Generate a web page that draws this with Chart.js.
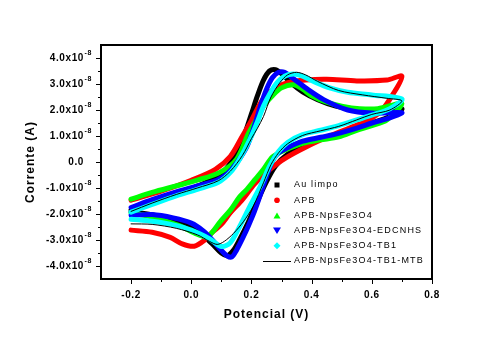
<!DOCTYPE html>
<html>
<head>
<meta charset="utf-8">
<title>Voltametria ciclica</title>
<script src="https://cdn.jsdelivr.net/npm/chart.js"></script>
<style>
  body { margin: 0; background: #fff; }
</style>
</head>
<body>
<canvas id="cv" width="480" height="350"></canvas>
<script>
// potencial (V) e corrente (x10^-8 A): varredura direta seguida da reversa
const auV  = [-0.20,-0.15,-0.10,-0.05,0.00,0.05,0.10,0.13,0.16,0.18,0.20,0.22,0.24,0.26,0.28,0.30,0.33,0.37,0.42,0.48,0.55,0.62,0.70,
              0.66,0.60,0.52,0.45,0.38,0.32,0.28,0.25,0.22,0.19,0.16,0.14,0.12,0.10,0.07,0.03,-0.03,-0.10,-0.20];
const auI  = [-1.85,-1.62,-1.42,-1.22,-1.02,-0.78,-0.45,-0.05,0.50,1.15,1.85,2.55,3.15,3.50,3.55,3.40,3.05,2.70,2.40,2.15,2.00,1.95,2.05,
              1.75,1.50,1.20,0.95,0.65,0.30,-0.15,-0.75,-1.50,-2.30,-3.00,-3.40,-3.60,-3.50,-3.15,-2.75,-2.35,-2.10,-1.90];

const apbV = [-0.20,-0.10,0.00,0.08,0.13,0.17,0.20,0.24,0.28,0.32,0.38,0.45,0.55,0.65,0.70,
              0.67,0.63,0.59,0.54,0.45,0.36,0.30,0.25,0.21,0.17,0.13,0.10,0.07,0.045,0.01,-0.03,-0.07,-0.13,-0.20];
const apbI = [-1.47,-1.12,-0.70,-0.28,0.22,1.00,1.60,2.45,2.85,3.05,3.15,3.18,3.12,3.15,3.30,
              2.60,1.95,1.62,1.37,0.95,0.45,0.05,-0.40,-0.85,-1.45,-1.95,-2.40,-2.70,-3.00,-3.24,-3.15,-2.90,-2.70,-2.62];

const npsV = [-0.20,-0.13,-0.05,0.02,0.095,0.15,0.19,0.22,0.24,0.27,0.30,0.34,0.37,0.40,0.45,0.50,0.56,0.62,0.70,
              0.65,0.60,0.55,0.49,0.43,0.37,0.31,0.27,0.24,0.21,0.185,0.16,0.13,0.096,0.07,0.05,0.02,-0.04,-0.12,-0.20];
const npsI = [-1.43,-1.17,-0.92,-0.70,-0.40,0.10,1.10,1.70,2.15,2.55,2.85,2.97,2.80,2.55,2.30,2.15,2.05,2.05,2.25,
              1.62,1.40,1.22,0.97,0.85,0.72,0.45,0.20,-0.28,-0.70,-1.05,-1.35,-1.85,-2.30,-2.70,-2.88,-2.78,-2.45,-2.15,-1.95];

const edcV = [-0.20,-0.13,-0.05,0.02,0.085,0.12,0.15,0.185,0.21,0.23,0.25,0.27,0.29,0.31,0.34,0.38,0.44,0.52,0.60,0.70,
              0.66,0.60,0.55,0.49,0.43,0.37,0.32,0.29,0.27,0.25,0.23,0.21,0.19,0.17,0.15,0.135,0.12,0.10,0.07,0.04,0.00,-0.06,-0.13,-0.20];
const edcI = [-1.75,-1.45,-1.15,-0.92,-0.70,-0.45,-0.05,0.60,1.40,2.15,2.80,3.25,3.45,3.45,3.20,2.85,2.40,2.00,1.88,1.90,
              1.70,1.50,1.30,1.10,0.95,0.80,0.55,0.35,0.05,-0.55,-1.25,-1.90,-2.45,-2.95,-3.40,-3.65,-3.62,-3.40,-3.00,-2.65,-2.35,-2.15,-2.02,-2.05];

const tb1V = [-0.20,-0.13,-0.05,0.02,0.09,0.13,0.16,0.195,0.22,0.24,0.265,0.285,0.31,0.34,0.37,0.41,0.46,0.52,0.60,0.70,
              0.66,0.60,0.55,0.49,0.43,0.37,0.32,0.29,0.26,0.23,0.195,0.16,0.13,0.10,0.06,0.00,-0.06,-0.13,-0.20];
const tb1I = [-1.93,-1.63,-1.30,-1.05,-0.78,-0.40,0.10,0.87,1.55,2.15,2.70,3.05,3.30,3.38,3.30,3.08,2.85,2.68,2.58,2.42,
              2.05,1.80,1.62,1.40,1.22,1.05,0.75,0.40,-0.17,-0.93,-1.70,-2.50,-3.10,-3.25,-2.95,-2.62,-2.42,-2.28,-2.20];

const mtbV = [-0.20,-0.13,-0.05,0.02,0.09,0.13,0.17,0.20,0.22,0.24,0.265,0.295,0.32,0.35,0.38,0.42,0.49,0.57,0.65,0.70,
              0.66,0.60,0.55,0.49,0.43,0.37,0.32,0.29,0.265,0.24,0.206,0.173,0.14,0.11,0.086,0.06,0.02,-0.05,-0.13,-0.20];
const mtbI = [-1.90,-1.58,-1.25,-1.00,-0.72,-0.35,0.25,0.90,1.30,1.75,2.50,3.06,3.35,3.45,3.35,3.10,2.75,2.58,2.45,2.35,
              2.00,1.83,1.62,1.37,1.20,1.02,0.70,0.35,-0.10,-0.80,-1.70,-2.30,-2.75,-3.05,-3.17,-3.05,-2.80,-2.55,-2.40,-2.38];

const xTicks = [-0.2, 0.0, 0.2, 0.4, 0.6, 0.8];
const xMinor = [-0.1, 0.1, 0.3, 0.5, 0.7];
const yTicks = [-4, -3, -2, -1, 0, 1, 2, 3, 4];
const yMinor = [-3.5, -2.5, -1.5, -0.5, 0.5, 1.5, 2.5, 3.5];

const series = [
  { label: 'Au limpo',             v: auV,  i: auI,  color: '#000000', width: 5, marker: 'square' },
  { label: 'APB',                  v: apbV, i: apbI, color: '#ff0000', width: 5, marker: 'circle' },
  { label: 'APB-NpsFe3O4',         v: npsV, i: npsI, color: '#00ff00', width: 5, marker: 'triangle' },
  { label: 'APB-NpsFe3O4-EDCNHS',  v: edcV, i: edcI, color: '#0000ff', width: 5, marker: 'down' },
  { label: 'APB-NpsFe3O4-TB1',     v: tb1V, i: tb1I, color: '#00ffff', width: 5, marker: 'diamond' },
  { label: 'APB-NpsFe3O4-TB1-MTB', v: mtbV, i: mtbI, color: '#000000', width: 1, marker: 'line' }
];

const FONT = '"Liberation Sans", Arial, sans-serif';
Chart.defaults.font.family = FONT;

function toPoints(v, i) {
  return v.map((x, k) => ({ x: x, y: i[k] }));
}

function drawMarker(ctx, type, x, y, color) {
  ctx.fillStyle = color;
  ctx.strokeStyle = color;
  ctx.beginPath();
  if (type === 'square') {
    ctx.fillRect(x - 2.5, y - 2.5, 5, 5);
    return;
  } else if (type === 'circle') {
    ctx.arc(x, y, 2.8, 0, Math.PI * 2);
  } else if (type === 'triangle') {
    ctx.moveTo(x, y - 3); ctx.lineTo(x + 3.5, y + 3); ctx.lineTo(x - 3.5, y + 3);
  } else if (type === 'down') {
    ctx.moveTo(x - 4, y - 3); ctx.lineTo(x + 4, y - 3); ctx.lineTo(x, y + 3.5);
  } else if (type === 'diamond') {
    ctx.moveTo(x, y - 3.5); ctx.lineTo(x + 3.5, y); ctx.lineTo(x, y + 3.5); ctx.lineTo(x - 3.5, y);
  } else {
    ctx.lineWidth = 1;
    ctx.moveTo(263, y + 0.5); ctx.lineTo(291, y + 0.5);
    ctx.stroke();
    return;
  }
  ctx.closePath();
  ctx.fill();
}

// moldura, marcas, rótulos dos eixos e legenda
const decor = {
  id: 'decor',
  afterDraw(chart) {
    const ctx = chart.ctx, a = chart.chartArea;
    const sx = chart.scales.x, sy = chart.scales.y;
    ctx.save();
    ctx.strokeStyle = '#000';
    ctx.lineWidth = 2;
    ctx.strokeRect(a.left, a.top, a.right - a.left, a.bottom - a.top);

    ctx.lineWidth = 1;
    ctx.beginPath();
    xTicks.concat(xMinor).forEach(v => {
      const x = Math.round(sx.getPixelForValue(v)) + 0.5;
      const len = xTicks.includes(v) ? 5 : 3;
      ctx.moveTo(x, a.bottom); ctx.lineTo(x, a.bottom + len);
    });
    yTicks.concat(yMinor).forEach(v => {
      const y = Math.round(sy.getPixelForValue(v)) + 0.5;
      const len = yTicks.includes(v) ? 5 : 3;
      ctx.moveTo(a.left, y); ctx.lineTo(a.left - len, y);
    });
    ctx.stroke();

    ctx.fillStyle = '#000';
    ctx.letterSpacing = '0.6px';
    ctx.textBaseline = 'middle';
    yTicks.forEach(v => {
      const y = sy.getPixelForValue(v);
      ctx.font = 'bold 10px ' + FONT;
      ctx.textAlign = 'right';
      if (v === 0) {
        ctx.fillText('0.0', 84, y);
        return;
      }
      ctx.fillText(v.toFixed(1) + 'x10', 84, y);
      ctx.font = 'bold 7px ' + FONT;
      ctx.textAlign = 'left';
      ctx.fillText('-8', 84.5, y - 5);
    });

    ctx.font = 'bold 10px ' + FONT;
    ctx.textAlign = 'center';
    xTicks.forEach(v => {
      ctx.fillText(v.toFixed(1), sx.getPixelForValue(v), 295);
    });

    ctx.letterSpacing = '1px';
    ctx.font = 'bold 12px ' + FONT;
    ctx.fillText('Potencial (V)', (a.left + a.right) / 2, 315);
    ctx.save();
    ctx.translate(31, (a.top + a.bottom) / 2);
    ctx.rotate(-Math.PI / 2);
    ctx.fillText('Corrente (A)', 0, 0);
    ctx.restore();

    ctx.font = '9px ' + FONT;
    ctx.letterSpacing = '1.2px';
    ctx.textAlign = 'left';
    series.forEach((s, k) => {
      const y = 185 + k * 15.2;
      drawMarker(ctx, s.marker, 277, y, s.color);
      ctx.fillStyle = '#000';
      ctx.fillText(s.label, 294, y);
    });
    ctx.restore();
  }
};

new Chart(document.getElementById('cv'), {
  type: 'scatter',
  data: {
    datasets: series.map((s, k) => ({
      label: s.label,
      data: toPoints(s.v, s.i),
      showLine: true,
      borderColor: s.color,
      backgroundColor: s.color,
      borderWidth: s.width,
      borderJoinStyle: 'round',
      borderCapStyle: 'round',
      pointRadius: 0,
      tension: 0.3,
      order: series.length - 1 - k
    }))
  },
  options: {
    responsive: false,
    animation: false,
    devicePixelRatio: 1,
    layout: { padding: { left: 101, right: 48, top: 45, bottom: 71 } },
    plugins: { legend: { display: false }, tooltip: { enabled: false } },
    scales: {
      x: { type: 'linear', min: -0.3, max: 0.8, display: false },
      y: { type: 'linear', min: -4.5, max: 4.5, display: false }
    }
  },
  plugins: [decor]
});
</script>
</body>
</html>
